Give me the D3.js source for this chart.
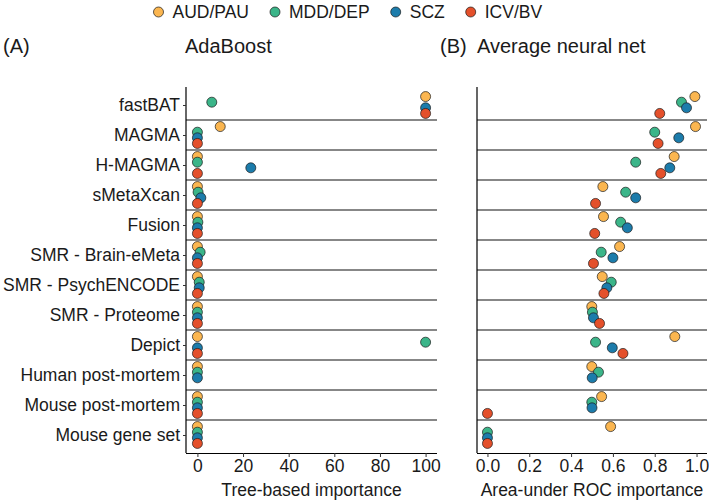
<!DOCTYPE html>
<html>
<head>
<meta charset="utf-8">
<script src="https://d3js.org/d3.v7.min.js"></script>
<style>
  html, body { margin: 0; padding: 0; background: #fff; }
  svg { display: block; font-family: "Liberation Sans", Arial, Helvetica, sans-serif; }
</style>
</head>
<body>
<svg id="chart" width="709" height="500"></svg>
<script>
const categories = ["fastBAT", "MAGMA", "H-MAGMA", "sMetaXcan", "Fusion", "SMR - Brain-eMeta",
  "SMR - PsychENCODE", "SMR - Proteome", "Depict", "Human post-mortem", "Mouse post-mortem", "Mouse gene set"];
const seriesNames = ["AUD/PAU", "MDD/DEP", "SCZ", "ICV/BV"];
const seriesColors = ["#FBB650", "#3BB589", "#1C7CAB", "#E4502B"];

// AdaBoost: tree-based importance (per category, per series)
const adaAUD = [100, 10, 0, 0, 0, 0, 0, 0, 0, 0, 0, 0];
const adaMDD = [6.3, 0, 0, 0.3, 0.2, 1.2, 0.8, 0, 100, 0, 0, 0];
const adaSCZ = [100, 0, 23.4, 1.5, 0, 0, 0.8, 0, 0, 0, 0, 0];
const adaICV = [100, 0, 0, 0, 0, 0, 0, 0, 0, null, 0, 0];

// Average neural net: area-under ROC importance
const nnAUD = [0.992, 0.995, 0.893, 0.552, 0.555, 0.632, 0.549, 0.499, 0.896, 0.499, 0.546, 0.589];
const nnMDD = [0.928, 0.800, 0.709, 0.661, 0.637, 0.544, 0.592, 0.502, 0.517, 0.531, 0.499, 0];
const nnSCZ = [0.952, 0.915, 0.872, 0.709, 0.669, 0.600, 0.571, 0.507, 0.597, 0.501, 0.500, 0];
const nnICV = [0.824, 0.816, 0.829, 0.517, 0.513, 0.507, 0.557, 0.536, 0.648, null, 0, 0];

const leftTicks = [0, 20, 40, 60, 80, 100];
const rightTicks = [0, 0.2, 0.4, 0.6, 0.8, 1.0];

const svg = d3.select("#chart");
const plotTop = 87, plotBottom = 453;
const ink = "#1a1a1a";

const y = d3.scalePoint().domain(categories).range([plotTop, plotBottom]).padding(0.6);
const step = y.step();
const dodge = d3.scalePoint().domain(seriesNames).range([-1.5, 1.5]);
const color = d3.scaleOrdinal().domain(seriesNames).range(seriesColors);

function panel(opts) {
  const { x, ticks, fmt, data, title, showY } = opts;
  const [x0, x1] = x.range();
  const g = svg.append("g");

  // separators between categories
  const mids = categories.slice(0, -1).map((c, i) => (y(c) + y(categories[i + 1])) / 2);
  g.selectAll("line.sep").data(mids).join("line")
    .attr("x1", x0).attr("x2", x1).attr("y1", d => d).attr("y2", d => d)
    .attr("stroke", "#111").attr("stroke-width", 1.2);

  // x axis
  const ax = g.append("g").attr("transform", `translate(0,${plotBottom})`)
    .call(d3.axisBottom(x).tickValues(ticks).tickFormat(fmt).tickSize(4).tickPadding(3));
  ax.select(".domain").attr("stroke", "#000").attr("stroke-width", 1.2)
    .attr("d", `M${x0},0.5H${x1}`);
  ax.selectAll(".tick line").attr("stroke", "#333");
  ax.selectAll(".tick text").attr("font-size", 17.5).attr("fill", ink)
    .attr("font-family", "Liberation Sans, Arial, sans-serif");

  // y axis line
  g.append("line").attr("x1", x0).attr("x2", x0).attr("y1", plotTop).attr("y2", plotBottom)
    .attr("stroke", "#000").attr("stroke-width", 1.2);

  if (showY) {
    const ay = g.append("g").attr("transform", `translate(${x0},0)`)
      .call(d3.axisLeft(y).tickSize(3).tickPadding(3));
    ay.select(".domain").remove();
    ay.selectAll(".tick line").attr("stroke", "#333");
    ay.selectAll(".tick text").attr("font-size", 17.5).attr("fill", ink)
      .attr("font-family", "Liberation Sans, Arial, sans-serif");
  }

  // axis title
  g.append("text").attr("x", (x0 + x1) / 2).attr("y", 496).attr("text-anchor", "middle")
    .attr("font-size", 17.5).attr("fill", ink).text(title);

  // points
  const pts = [];
  seriesNames.forEach((s, si) => {
    data[si].forEach((v, ci) => {
      if (v !== null && v !== undefined) pts.push({ s, c: categories[ci], v });
    });
  });
  g.selectAll("circle.pt").data(pts).join("circle")
    .attr("cx", d => x(d.v))
    .attr("cy", d => y(d.c) + dodge(d.s) * 0.1875 * step)
    .attr("r", 5)
    .attr("fill", d => color(d.s))
    .attr("stroke", ink).attr("stroke-width", 0.7);
}

const xL = d3.scaleLinear().domain([-5, 105]).range([186, 437]);
const xR = d3.scaleLinear().domain([-0.05, 1.05]).range([477, 707]);

panel({ x: xL, ticks: leftTicks, fmt: d3.format("d"), data: [adaAUD, adaMDD, adaSCZ, adaICV],
  title: "Tree-based importance", showY: true });
panel({ x: xR, ticks: rightTicks, fmt: d3.format(".1f"), data: [nnAUD, nnMDD, nnSCZ, nnICV],
  title: "Area-under ROC importance", showY: false });

// panel titles
const tfs = 20;
svg.append("text").attr("x", 3).attr("y", 53).attr("font-size", tfs).attr("fill", ink).text("(A)");
svg.append("text").attr("x", 185).attr("y", 53).attr("font-size", tfs).attr("fill", ink).text("AdaBoost");
svg.append("text").attr("x", 440).attr("y", 53).attr("font-size", tfs).attr("fill", ink).text("(B)");
svg.append("text").attr("x", 477).attr("y", 53).attr("font-size", tfs).attr("fill", ink).text("Average neural net");

// legend
const lg = svg.append("g");
let cx = 0;
const circleX = [];
seriesNames.forEach((s) => {
  const it = lg.append("g");
  it.append("circle").attr("cx", 0).attr("cy", 0).attr("r", 5)
    .attr("fill", color(s)).attr("stroke", ink).attr("stroke-width", 0.7);
  const t = it.append("text").attr("x", 14).attr("y", 6).attr("font-size", 17.5)
    .attr("fill", ink).text(s);
  const w = t.node().getComputedTextLength();
  it.attr("transform", `translate(${cx},12)`);
  circleX.push(cx);
  cx += 14 + w + 26;
});
lg.attr("transform", `translate(${275 - circleX[1]},0)`);
</script>
</body>
</html>
